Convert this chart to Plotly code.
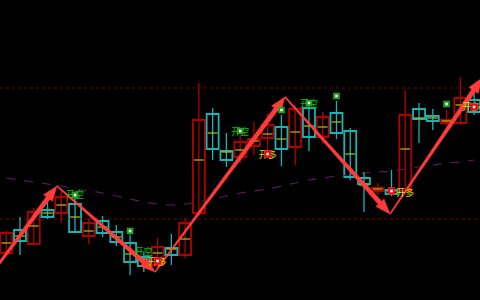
import numpy as np
import plotly.graph_objects as go

# ---------------- data ----------------
idx = list(range(35))
opens  = [2747,2770,2756,2790,2787,2796,2764,2779,2768,2757,2743,2735,2752,2745,2787,2886,2849,2843,2854,2862,
          2873,2853,2892,2863,2887,2869,2822,2809,2810,2809,2891,2884,2877,2877,2900]
closes = [2767,2759,2788,2783,2803,2768,2777,2767,2758,2738,2734,2753,2745,2777,2880,2851,2840,2858,2861,2875,
          2851,2891,2863,2883,2867,2823,2816,2812,2806,2885,2881,2879,2880,2902,2888]
highs  = [2769,2783,2792,2798,2809,2804,2782,2784,2775,2765,2748,2762,2766,2782,2917,2892,2867,2865,2878,2887,
          2885,2895,2896,2888,2899,2872,2828,2817,2830,2909,2897,2891,2890,2923,2910]
lows   = [2745,2745,2755,2781,2777,2767,2756,2763,2754,2725,2728,2730,2735,2742,2784,2840,2833,2837,2845,2842,
          2834,2835,2849,2856,2861,2820,2788,2805,2804,2807,2857,2870,2874,2875,2885]
mids   = [2757,2764,2774,2787,2795,2783,2769,2773,2763,2746,2741,2747,2751,2761,2840,2867,2848,2850,2859,2866,
          2861,2868,2874,2873,2878,2846,2815,2811,2809,2851,2882,2882,2879,2895,2896]
ma     = [2822,2820,2818,2816,2814,2811,2809,2807,2804,2801,2798,2796,2795,2796,2798,2801,2804,2807,2809,2811,
          2814,2817,2820,2822,2824,2825,2827,2828,2829,2831,2833,2835,2837,2838,2840]
levels = [2912, 2781]

piv_x = [-2.5, 3.69, 10.81, 20.26, 27.89, 34.58]
piv_y = [2700, 2814, 2728, 2903, 2786, 2922]

short_x = [5, 10, 17, 22];  short_y = [2804, 2747, 2867, 2895]
long_x  = [11, 19, 29, 33.8]; long_y  = [2737, 2844, 2806, 2892]
gdot_x = [5, 9, 17, 20, 22, 24, 32]; gdot_y = [2805, 2769, 2869, 2890, 2897, 2904, 2896]
rdot_x = [11, 19, 28, 34];           rdot_y = [2739, 2846, 2809, 2893]

# ---------------- layout constants ----------------
W, H = 480, 300
X0, X1 = -0.4535, 34.43
Y0, Y1 = 2700, 3000
RED, CYAN, YEL = "#b00000", "#19b3b3", "#b4b400"
BW = 0.87

fig = go.Figure()

# moving average (dashed purple)
fig.add_trace(go.Scatter(x=idx, y=ma, mode="lines", line=dict(color="#561a56", width=1.2, dash="dash"),
                         line_shape="spline", hoverinfo="skip"))
# dotted levels
for lv in levels:
    fig.add_trace(go.Scatter(x=[X0, X1], y=[lv, lv], mode="lines",
                             line=dict(color="#7a0000", width=1.2, dash="dot"), hoverinfo="skip"))

up = [o <= c for o, c in zip(opens, closes)]

def wick_xy(sel):
    xs, ys = [], []
    for i in idx:
        if up[i] == sel:
            xs += [i, i, None]
            ys += [lows[i], highs[i], None]
    return xs, ys

for sel, col in [(True, RED), (False, CYAN)]:
    xs, ys = wick_xy(sel)
    fig.add_trace(go.Scatter(x=xs, y=ys, mode="lines", line=dict(color=col, width=1.3), hoverinfo="skip"))
    bx = [i for i in idx if up[i] == sel]
    base = [min(opens[i], closes[i]) for i in bx]
    hgt = [max(abs(closes[i] - opens[i]), 1) for i in bx]
    fig.add_trace(go.Bar(x=bx, y=hgt, base=base, width=BW, marker=dict(color="black", line=dict(color=col, width=1.8)),
                         hoverinfo="skip"))

# yellow mid markers
mx, my = [], []
for i in idx:
    mx += [i - BW / 2 + 0.08, i + BW / 2 - 0.08, None]
    my += [mids[i], mids[i], None]
fig.add_trace(go.Scatter(x=mx, y=my, mode="lines", line=dict(color=YEL, width=1.3), hoverinfo="skip"))

# tapered zigzag arrows (computed in pixel space from pivot data)
sx = W / (X1 - X0)
sy = H / (Y1 - Y0)
def to_px(x, y):
    return np.array([(x - X0) * sx, (Y1 - y) * sy])
def to_data(p):
    return p[0] / sx + X0, Y1 - p[1] / sy

for k in range(len(piv_x) - 1):
    T = to_px(piv_x[k], piv_y[k])
    Hh = to_px(piv_x[k + 1], piv_y[k + 1])
    d = Hh - T
    L = np.hypot(*d)
    u = d / L
    n = np.array([-u[1], u[0]])
    hl, hw = 15, 5.5
    B = Hh - u * hl
    pts = [T + n * 0.6, B + n * 2.3, B + n * hw, Hh, B - n * hw, B - n * 2.3, T - n * 0.6, T + n * 0.6]
    dd = [to_data(p) for p in pts]
    fig.add_trace(go.Scatter(x=[p[0] for p in dd], y=[p[1] for p in dd], mode="lines", fill="toself",
                             fillcolor="#ff3c3c", line=dict(color="#ff3c3c", width=0.5), hoverinfo="skip"))

# signal text
fig.add_trace(go.Scatter(x=short_x, y=short_y, mode="text", text=["开空"] * len(short_x),
                         textfont=dict(color="#00c000", size=9, family="Noto Sans CJK SC"), hoverinfo="skip"))
fig.add_trace(go.Scatter(x=long_x, y=long_y, mode="text", text=["开多"] * len(long_x),
                         textfont=dict(color="#dcdc00", size=9, family="Noto Sans CJK SC"), hoverinfo="skip"))
# signal dots
fig.add_trace(go.Scatter(x=gdot_x, y=gdot_y, mode="markers",
                         marker=dict(symbol="square", size=6, color="#1a9a1a", line=dict(color="#2fc02f", width=0.5)),
                         hoverinfo="skip"))
fig.add_trace(go.Scatter(x=rdot_x, y=rdot_y, mode="markers",
                         marker=dict(symbol="square", size=7, color="#e01010", line=dict(color="#ff3030", width=0.5)),
                         hoverinfo="skip"))
fig.add_trace(go.Scatter(x=gdot_x + rdot_x, y=gdot_y + rdot_y, mode="markers",
                         marker=dict(symbol="square", size=2.5, color="white"), hoverinfo="skip"))

fig.update_layout(width=W, height=H, margin=dict(l=0, r=0, t=0, b=0), showlegend=False,
                  paper_bgcolor="black", plot_bgcolor="black", barmode="overlay",
                  xaxis=dict(range=[X0, X1], visible=False, showgrid=False, zeroline=False),
                  yaxis=dict(range=[Y0, Y1], visible=False, showgrid=False, zeroline=False))

fig.write_html("out.html", config={"displayModeBar": False})
